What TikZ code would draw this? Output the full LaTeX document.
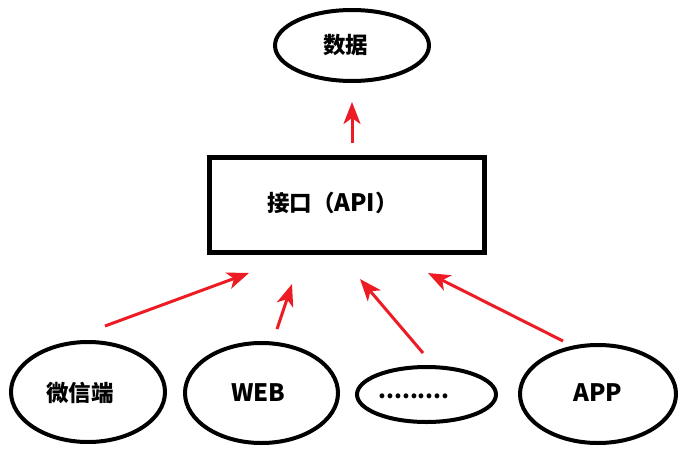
\documentclass[tikz,border=0pt]{standalone}
\usepackage{fontspec}
\newfontfamily\cjk{Noto Sans CJK SC}
\usetikzlibrary{shapes.geometric,arrows.meta}
\definecolor{paintred}{HTML}{ED1C24}
\newcommand{\latinsz}{\fontsize{24}{28}\selectfont}
\tikzset{
  oval/.style={draw=black,line width=4pt,ellipse,inner sep=0pt},
  box/.style={draw=black,line width=5pt,rectangle,inner sep=0pt},
  lbl/.style={font=\cjk\bfseries\fontsize{22.5}{26}\selectfont,inner sep=0pt,text=black},
  redarrow/.style={draw=paintred,line width=3pt,-{Stealth[length=22pt,width=17pt,inset=6pt]}}
}
\begin{document}
\begin{tikzpicture}[x=1pt,y=1pt]
\useasboundingbox (0,0) rectangle (690,-452);
% top
\node[oval,minimum width=154pt,minimum height=71pt] (data) at (352,-45.5) {};
\node[lbl] (datat) at (345.5,-45) {数据};
\node[box,minimum width=274.5pt,minimum height=95pt] (api) at (346.75,-205) {};
\node[lbl] (apit) at (332.5,-203) {接口（{\latinsz API}）};
% bottom
\node[oval,minimum width=154pt,minimum height=100pt] (wx) at (88,-392) {};
\node[lbl] (wxt) at (80,-393) {微信端};
\node[oval,minimum width=153pt,minimum height=100pt] (web) at (261.5,-393) {};
\node[lbl] (webt) at (258.5,-393) {\latinsz WEB};
\node[oval,minimum width=139pt,minimum height=55pt] (dots) at (426.5,-394.5) {};
\node[lbl] (dotst) at (414,-396) {.........};
\node[oval,minimum width=156pt,minimum height=98pt] (app) at (598,-394) {};
\node[lbl] (appt) at (598,-393) {\latinsz APP};
% arrow coordinates
\coordinate (s0) at (352,-143); \coordinate (e0) at (352,-102);
\coordinate (s1) at (105,-326); \coordinate (e1) at (249,-273);
\coordinate (s2) at (277,-329); \coordinate (e2) at (292,-284);
\coordinate (s3) at (423,-353); \coordinate (e3) at (360,-279);
\coordinate (s4) at (563,-341); \coordinate (e4) at (428,-273);
\draw[redarrow] (s0) -- (e0);
\draw[redarrow] (s1) -- (e1);
\draw[redarrow] (s2) -- (e2);
\draw[redarrow] (s3) -- (e3);
\draw[redarrow] (s4) -- (e4);
\end{tikzpicture}
\end{document}
